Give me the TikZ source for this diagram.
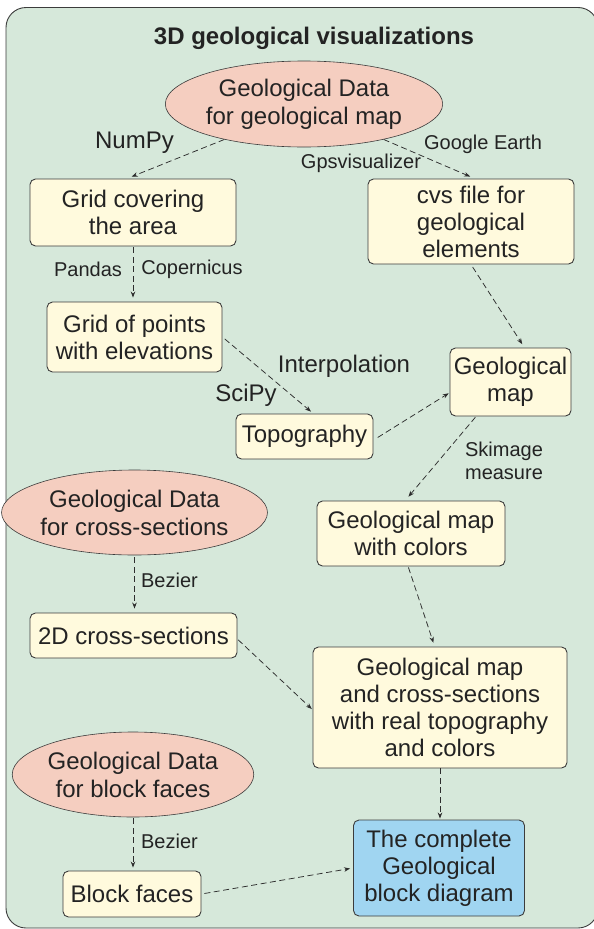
\documentclass[tikz,border=0pt]{standalone}
\usepackage{fontspec}
\setmainfont{Liberation Sans}
\usetikzlibrary{shapes.geometric,arrows.meta}
\definecolor{bgc}{RGB}{214,232,218}
\definecolor{boxc}{RGB}{255,250,221}
\definecolor{ovalc}{RGB}{245,206,192}
\definecolor{bluec}{RGB}{160,213,241}
\definecolor{linec}{RGB}{60,60,60}
\definecolor{txtc}{RGB}{35,35,35}
\definecolor{arrc}{RGB}{45,45,45}
\begin{document}
\begin{tikzpicture}[x=1pt,y=-1pt,
  box/.style={draw=linec, fill=boxc, rounded corners=5.5pt, line width=0.9pt, inner sep=0pt, align=center, font=\fontsize{24}{27}\selectfont, text=txtc},
  oval/.style={ellipse, draw=linec, fill=ovalc, line width=0.6pt, inner sep=0pt, align=center, font=\fontsize{24}{28}\selectfont, text=txtc},
  lab/.style={font=\fontsize{20}{23}\selectfont, text=txtc, inner sep=0pt, align=center},
  biglab/.style={font=\fontsize{24}{27}\selectfont, text=txtc, inner sep=0pt},
  conn/.style={draw=arrc, line width=0.75pt, dash pattern=on 6pt off 3.5pt, -{Stealth[length=6pt,width=4.5pt]}}
]
\useasboundingbox (0,0) rectangle (594,929);
\draw[draw=linec, fill=bgc, line width=0.9pt, rounded corners=20pt] (6,7.5) rectangle (598,928);

\node[font=\fontsize{24}{27}\selectfont\bfseries, text=txtc, inner sep=0pt] (title) at (314,38) {3D geological visualizations};

\node[oval, minimum width=232pt, minimum height=86pt] (e1) at (304,104) {Geological Data\\for geological map};
\node[box, minimum width=206pt, minimum height=67pt] (g1) at (133,212.5) {Grid covering\\the area};
\node[box, minimum width=206pt, minimum height=85pt] (cvs) at (471,221.5) {cvs file for\\geological\\elements};
\node[box, minimum width=175pt, minimum height=70pt] (g2) at (134.5,337) {Grid of points\\with elevations};
\node[box, minimum width=121pt, minimum height=68pt] (gm) at (510.5,382) {Geological\\map};
\node[box, minimum width=137pt, minimum height=45pt] (topo) at (304.5,436.5) {Topography};
\node[oval, minimum width=219pt, minimum height=85pt] (e2) at (134.5,512.5) {Geological Data\\for cross-sections};
\node[box, minimum width=188pt, minimum height=65pt] (col) at (411,533.5) {Geological map\\with colors};
\node[box, minimum width=207pt, minimum height=45pt] (d2) at (133.5,635.5) {2D cross-sections};
\node[box, minimum width=254pt, minimum height=121pt] (real) at (440,707.5) {Geological map\\and cross-sections\\with real topography\\and colors};
\node[oval, minimum width=220pt, minimum height=85pt] (e3) at (133,774.5) {Geological Data\\for block faces};
\node[box, minimum width=138pt, minimum height=46pt] (bf) at (132,894) {Block faces};
\node[box, fill=bluec, minimum width=171pt, minimum height=96pt] (comp) at (439,868) {The complete\\Geological\\block diagram};

\node[biglab] (lnumpy) at (134.5,143) {NumPy};
\node[lab] (lgps) at (361,163) {Gpsvisualizer};
\node[lab] (lge) at (483,144) {Google Earth};
\node[lab] (lpandas) at (88,269) {Pandas};
\node[lab] (lcop) at (192,269) {Copernicus};
\node[biglab] (linterp) at (344,366) {Interpolation};
\node[biglab] (lscipy) at (246,395) {SciPy};
\node[lab] (lskim) at (504,460.5) {Skimage\\measure};
\node[lab] (lbez1) at (169.5,580) {Bezier};
\node[lab] (lbez2) at (169.5,841) {Bezier};

\draw[conn, shorten >=5pt] (e1.204) -- (g1.100);
\draw[conn, shorten >=5pt] (e1.-24) -- (cvs.85);
\draw[conn, shorten <=1pt, shorten >=4pt] (g1.south) -- (g1.south |- g2.north);
\draw[conn, shorten <=3pt, shorten >=3pt] (g2.east) -- (topo.69);
\draw[conn, shorten <=3pt, shorten >=4pt] (cvs.south) -- (gm.68);
\draw[conn, shorten <=5pt, shorten >=1pt] (topo.-3) -- (gm.190);
\draw[conn, shorten <=1pt, shorten >=5pt] (gm.225) -- (col.100);
\draw[conn, shorten <=2pt, shorten >=4pt] (e2.south) -- (e2.south |- d2.north);
\draw[conn, shorten <=1pt, shorten >=4pt] (col.265) -- (real.95);
\draw[conn, shorten <=1pt, shorten >=1pt] (d2.-2) -- (real.181);
\draw[conn, shorten <=1pt, shorten >=3pt] (e3.south) -- (e3.south |- bf.north);
\draw[conn, shorten >=1pt] (real.south) -- (real.south |- comp.north);
\draw[conn, shorten <=3pt, shorten >=3pt] (bf.east) -- (comp.west);
\end{tikzpicture}
\end{document}
